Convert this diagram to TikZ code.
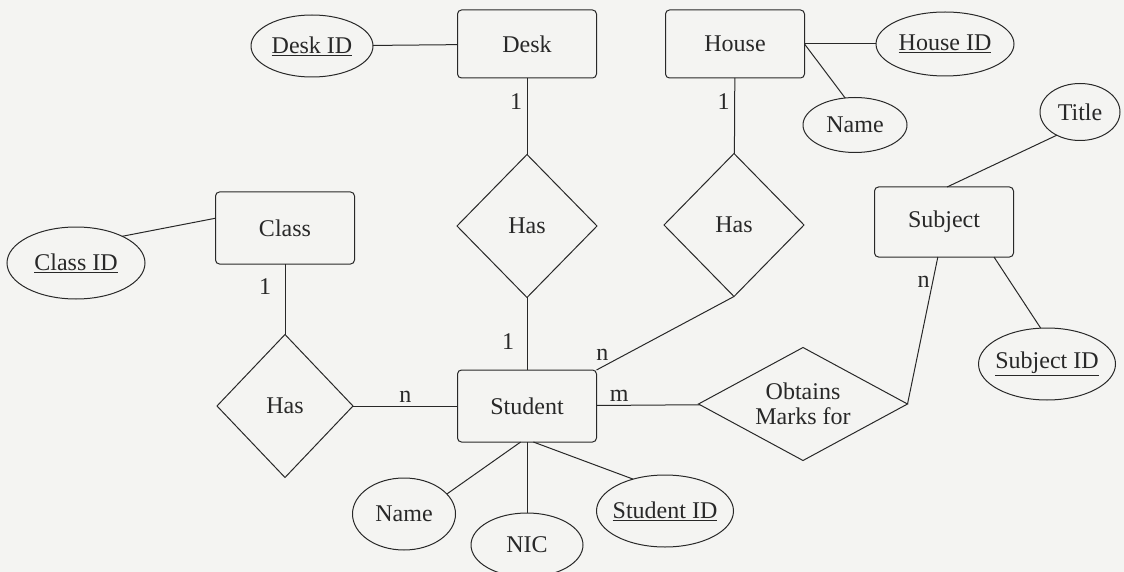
\documentclass[tikz,border=0pt]{standalone}
\usepackage{fontspec}
\setmainfont{Liberation Serif}
\usetikzlibrary{shapes.geometric}
\definecolor{paper}{RGB}{244,244,242}
\definecolor{ink}{RGB}{40,40,40}

\begin{document}
\begin{tikzpicture}[x=1pt,y=-1pt,inner sep=0pt,outer sep=0pt,line width=1pt,color=ink,
font=\rmfamily\fontsize{24}{25}\selectfont,
entity/.style={draw,rectangle,rounded corners=4pt,minimum width=139pt,minimum height=68pt},
attrib/.style={draw,ellipse,inner xsep=-15pt,minimum width=137pt,minimum height=72pt},
rel/.style={draw,diamond,minimum width=140pt,minimum height=143pt}]

\clip (0,0) rectangle (1124,572);
\fill[paper] (0,0) rectangle (1124,572);

\draw (312,46) node[attrib,minimum width=122pt,minimum height=62pt] (deskid) {\underline{Desk ID}};
\draw (527,44) node[entity] (desk) {Desk};
\draw (735,44) node[entity] (house) {House};
\draw (945,44) node[attrib,minimum width=138pt,minimum height=64pt] (houseid) {\underline{House ID}};
\draw (855,125) node[attrib,minimum width=104pt,minimum height=55pt] (hname) {Name};
\draw (1080,112) node[attrib,minimum width=80pt,minimum height=57pt] (title) {Title};
\draw (944,222) node[entity,minimum height=70pt] (subject) {Subject};
\draw (527,226) node[rel] (deskhas) {Has};
\draw (734,225) node[rel] (househas) {Has};
\draw (285,228) node[entity,minimum height=72pt] (class) {Class};
\draw (76,263) node[attrib,minimum width=138pt] (classid) {\underline{Class ID}};
\draw (285,406) node[rel,minimum width=136pt] (classhas) {Has};
\draw (527,406) node[entity,minimum height=72pt] (student) {Student};
\draw (803,404) node[rel,shape aspect=1.85,minimum width=209pt,minimum height=113pt,align=center] (obtains) {Obtains\\Marks for};
\draw (1047,364) node[attrib] (subjectid) {\underline{Subject ID}};
\draw (665,511) node[attrib] (studentid) {\underline{Student ID}};
\draw (404,514) node[attrib,minimum width=103pt] (sname) {Name};
\draw (527,545) node[attrib,minimum width=112pt,minimum height=64pt] (nic) {NIC};

\draw (deskid) -- (desk);
\draw (house) -- (houseid);
\draw (house.east) -- (hname.110);
\draw (desk) -- node[pos=.31,left=5pt] (card1) {1} (deskhas);
\draw (deskhas) -- node[pos=.61,left=13pt] (card2) {1} (student);
\draw (house) -- node[pos=.31,left=5pt] (card3) {1} (househas);
\draw (househas.south) -- node[pos=.9,above left=2pt] (card4) {n} (student.north east);
\draw (class.172) -- (classid.30);
\draw (class) -- node[pos=.32,left=14pt] (card5) {1} (classhas);
\draw (classhas) -- node[pos=.5,above=4pt] (card6) {n} (student);
\draw (student) -- node[pos=.22,above=4pt] (card7) {m} (obtains);
\draw (obtains.east) -- node[pos=.83,left=3pt] (card8) {n} (subject.-100);
\draw (subject.85) -- (title.225);
\draw (subject.-35) -- (subjectid.100);
\draw (student.-100) -- (sname.25);
\draw (student) -- (nic);
\draw (student.-80) -- (studentid.135);

\end{tikzpicture}
\end{document}
